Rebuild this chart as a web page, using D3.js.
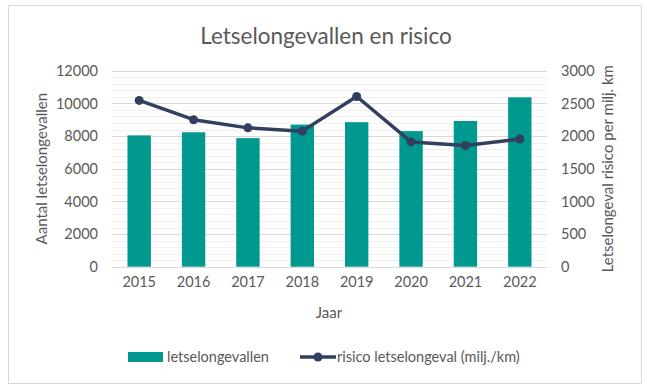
<!DOCTYPE html>
<html>
<head>
<meta charset="utf-8">
<script src="https://cdn.jsdelivr.net/npm/d3@7"></script>
<style>
  body { margin: 0; background: #fff; }
  text { font-family: Lato, "Open Sans", sans-serif; fill: #595959; }
</style>
</head>
<body>
<div id="chart"></div>
<script>
// chart data
var years = ["2015", "2016", "2017", "2018", "2019", "2020", "2021", "2022"];
var ongevallen = [8040, 8230, 7870, 8700, 8850, 8300, 8920, 10370];
var risico = [2545, 2250, 2125, 2075, 2605, 1910, 1855, 1955];
var leftTicks = [0, 2000, 4000, 6000, 8000, 10000, 12000];
var rightTicks = [0, 500, 1000, 1500, 2000, 2500, 3000];

var W = 647, H = 392;
var margin = { top: 70.7, right: 100, bottom: 125.3, left: 112 };
var barColor = "#00988f", lineColor = "#323f5e";

var svg = d3.select("#chart").append("svg")
    .attr("width", W)
    .attr("height", H);

// outer frame
svg.append("rect")
    .attr("x", 8.5).attr("y", 5.5)
    .attr("width", 633).attr("height", 378)
    .attr("fill", "#fff")
    .attr("stroke", "#d9d9d9");

svg.append("text")
    .attr("x", 326).attr("y", 44)
    .attr("text-anchor", "middle")
    .style("font-size", "22.5px")
    .text("Letselongevallen en risico");

var x = d3.scaleBand()
    .domain(years)
    .range([margin.left, W - margin.right]);

var yL = d3.scaleLinear().domain([0, 12000]).range([H - margin.bottom, margin.top]);
var yR = d3.scaleLinear().domain([0, 3000]).range([H - margin.bottom, margin.top]);

// minor grid lines every 400
var minor = d3.range(0, 12001, 400).filter(function(d) { return d % 2000 !== 0; });
svg.append("g").selectAll("line")
    .data(minor)
    .enter().append("line")
    .attr("x1", margin.left).attr("x2", W - margin.right)
    .attr("y1", function(d) { return Math.round(yL(d)) + 0.5; })
    .attr("y2", function(d) { return Math.round(yL(d)) + 0.5; })
    .attr("stroke", "#f0f0f0");

svg.append("g").selectAll("line")
    .data(leftTicks)
    .enter().append("line")
    .attr("x1", margin.left).attr("x2", W - margin.right)
    .attr("y1", function(d) { return Math.round(yL(d)) + 0.5; })
    .attr("y2", function(d) { return Math.round(yL(d)) + 0.5; })
    .attr("stroke", "#d9d9d9");

// bars
var bw = x.bandwidth() * 0.43;
svg.append("g").selectAll("rect")
    .data(ongevallen)
    .enter().append("rect")
    .attr("x", function(d, i) { return x(years[i]) + x.bandwidth() / 2 - bw / 2; })
    .attr("y", function(d) { return yL(d); })
    .attr("width", bw)
    .attr("height", function(d) { return yL(0) - yL(d); })
    .attr("fill", barColor);

// line
var line = d3.line()
    .x(function(d, i) { return x(years[i]) + x.bandwidth() / 2; })
    .y(function(d) { return yR(d); });

svg.append("path")
    .datum(risico)
    .attr("d", line)
    .attr("fill", "none")
    .attr("stroke", lineColor)
    .attr("stroke-width", 3.5)
    .attr("stroke-linejoin", "round");

svg.append("g").selectAll("circle")
    .data(risico)
    .enter().append("circle")
    .attr("cx", function(d, i) { return x(years[i]) + x.bandwidth() / 2; })
    .attr("cy", function(d) { return yR(d); })
    .attr("r", 4.5)
    .attr("fill", lineColor);

// axes
var axL = svg.append("g")
    .attr("transform", "translate(" + (margin.left - 14) + ",0)")
    .call(d3.axisLeft(yL).tickValues(leftTicks).tickSize(0).tickPadding(0).tickFormat(d3.format("d")));
var axR = svg.append("g")
    .attr("transform", "translate(" + (W - margin.right + 14) + ",0)")
    .call(d3.axisRight(yR).tickValues(rightTicks).tickSize(0).tickPadding(0).tickFormat(d3.format("d")));
var axX = svg.append("g")
    .attr("transform", "translate(0," + (H - margin.bottom + 10) + ")")
    .call(d3.axisBottom(x).tickSize(0).tickPadding(0));

[axL, axR, axX].forEach(function(ax) {
    ax.select(".domain").remove();
    ax.selectAll("text")
        .style("font-size", "14.5px")
        .style("font-family", "Lato, 'Open Sans', sans-serif")
        .attr("fill", "#595959");
});

// axis titles
svg.append("text")
    .attr("x", 329).attr("y", 318)
    .attr("text-anchor", "middle")
    .style("font-size", "15px")
    .text("Jaar");

svg.append("text")
    .attr("transform", "translate(47," + yL(6000) + ") rotate(-90)")
    .attr("text-anchor", "middle")
    .style("font-size", "15px")
    .text("Aantal letselongevallen");

svg.append("text")
    .attr("transform", "translate(613," + yL(6000) + ") rotate(-90)")
    .attr("text-anchor", "middle")
    .style("font-size", "15px")
    .text("Letselongeval risico per milj. km");

// legend
var lg = svg.append("g").attr("transform", "translate(0,357)");
lg.append("rect")
    .attr("x", 128).attr("y", -5)
    .attr("width", 35).attr("height", 10)
    .attr("fill", barColor);
lg.append("text")
    .attr("x", 167).attr("y", 5)
    .style("font-size", "14.5px")
    .text("letselongevallen");
lg.append("line")
    .attr("x1", 300).attr("x2", 336)
    .attr("y1", 0).attr("y2", 0)
    .attr("stroke", lineColor)
    .attr("stroke-width", 3.5);
lg.append("circle")
    .attr("cx", 318).attr("cy", 0).attr("r", 4.5)
    .attr("fill", lineColor);
lg.append("text")
    .attr("x", 337).attr("y", 5)
    .style("font-size", "14.5px")
    .text("risico letselongeval (milj./km)");
</script>
</body>
</html>
